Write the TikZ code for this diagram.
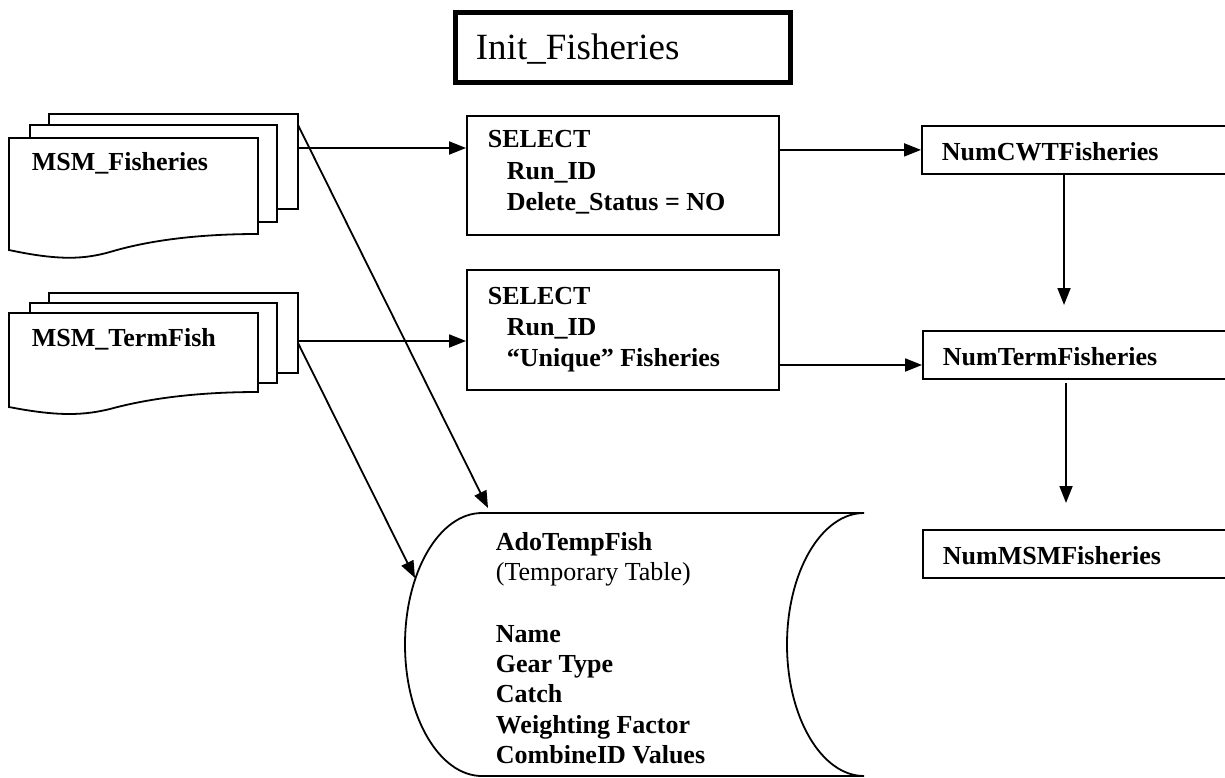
\documentclass[tikz,border=0pt]{standalone}
\usepackage{fontspec}
\setmainfont{Liberation Serif}
\usetikzlibrary{arrows.meta}
\begin{document}
\begin{tikzpicture}[x=1pt,y=-1pt,line width=1.8pt,
  arr/.style={-{Triangle[length=17pt,width=13pt]}},
  lbl/.style={anchor=base west,inner sep=0pt,font=\fontsize{26}{31}\selectfont\bfseries},
  rlbl/.style={anchor=base west,inner sep=0pt,font=\fontsize{26}{31}\selectfont},
  boxn/.style={draw,fill=white,anchor=north west,inner sep=0pt},
  page/.style={draw,fill=white}]
\useasboundingbox (0,0) rectangle (1225,778);
\clip (0,0) rectangle (1225,778);

% title box
\node[boxn,line width=5pt,minimum width=335pt,minimum height=70pt] (init) at (453,10) {};
\node[anchor=base west,inner sep=0pt,font=\fontsize{37}{44}\selectfont] (initt) at (475,60) {Init\_Fisheries};

% MSM_Fisheries stack
\draw[page] (49,114) rectangle (298,209);
\draw[page] (30,125) rectangle (277,222);
\draw[page] (9,138) -- (258,138) -- (258,234)
  .. controls (200,234) and (150,240) .. (110,252)
  .. controls (85,259) and (60,261) .. (9,250) -- cycle;
\node[lbl] (msmf) at (31,171) {MSM\_Fisheries};
\coordinate (f1out) at (298,148);
\coordinate (f1diag) at (298,125);

% MSM_TermFish stack
\draw[page] (49,293) rectangle (298,373);
\draw[page] (30,303) rectangle (277,383);
\draw[page] (9,313) -- (258,313) -- (258,392)
  .. controls (200,392) and (150,398) .. (110,409)
  .. controls (85,415) and (60,417) .. (9,407) -- cycle;
\node[lbl] (msmt) at (31,346) {MSM\_TermFish};
\coordinate (f2out) at (298,341);
\coordinate (f2diag) at (298,343);

% SELECT boxes
\node[boxn,minimum width=312pt,minimum height=119pt] (sel1) at (466,115) {};
\node[lbl] (s1a) at (487,148) {SELECT};
\node[lbl] (s1b) at (506,180) {Run\_ID};
\node[lbl] (s1c) at (506,211) {Delete\_Status = NO};

\node[boxn,minimum width=312pt,minimum height=120pt] (sel2) at (466,269) {};
\node[lbl] (s2a) at (487,304) {SELECT};
\node[lbl] (s2b) at (506,335) {Run\_ID};
\node[lbl] (s2c) at (506,366) {“Unique” Fisheries};
\coordinate (s2o) at (778,365);

% result boxes
\node[boxn,minimum width=330pt,minimum height=48pt] (ncwt) at (921,125) {};
\node[lbl] (ncwtt) at (941,161) {NumCWTFisheries};
\node[boxn,minimum width=330pt,minimum height=48pt] (ntf) at (922,330) {};
\node[lbl] (ntft) at (942,365) {NumTermFisheries};
\node[boxn,minimum width=330pt,minimum height=48pt] (nmsm) at (922,529) {};
\node[lbl] (nmsmt) at (942,564) {NumMSMFisheries};

% stored data (temporary table)
\draw (482,513) -- (864,513)
  arc[start angle=90,end angle=270,x radius=77pt,y radius=131.5pt]
  -- (482,776)
  arc[start angle=270,end angle=90,x radius=77pt,y radius=131.5pt] -- cycle;
\coordinate (ado1) at (488,508);
\coordinate (ado2) at (415,578);
\node[lbl] (adot) at (495,550) {AdoTempFish};
\node[rlbl] (adotmp) at (495,580) {(Temporary Table)};
\node[lbl] (adon) at (495,642) {Name};
\node[lbl] (adog) at (495,672) {Gear Type};
\node[lbl] (adoc) at (495,702) {Catch};
\node[lbl] (adow) at (495,733) {Weighting Factor};
\node[lbl] (adoi) at (495,763) {CombineID Values};

% connectors
\draw[arr] (f1out) -- (f1out -| sel1.west);
\draw[arr] (f2out) -- (f2out -| sel2.west);
\draw[arr] (sel1.east |- ncwt.west) -- (ncwt.west);
\draw[arr] (s2o) -- (s2o -| ntf.west);
\coordinate (d1s) at (1064,173);
\coordinate (d1e) at (1064,305);
\coordinate (d2s) at (1066,383);
\coordinate (d2e) at (1066,503);
\draw[arr] (d1s) -- (d1e);
\draw[arr] (d2s) -- (d2e);
\draw[arr] (f1diag) -- (ado1);
\draw[arr] (f2diag) -- (ado2);
\end{tikzpicture}
\end{document}
